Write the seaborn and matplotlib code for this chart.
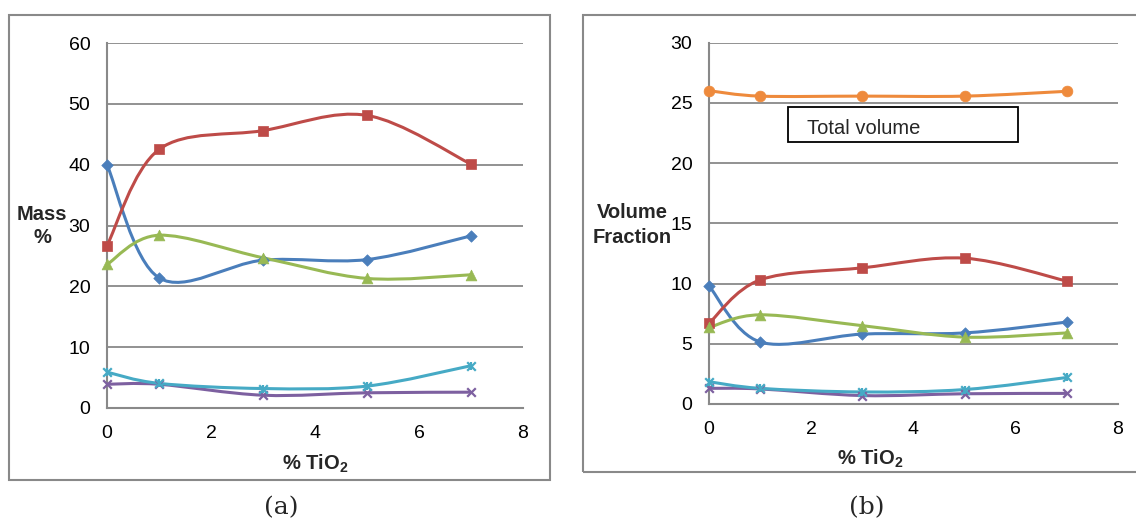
import matplotlib
matplotlib.use("Agg")
import matplotlib.pyplot as plt
import seaborn as sns
from matplotlib.path import Path
from matplotlib.patches import PathPatch, Rectangle

sns.set_style("white")
plt.rcParams['font.family'] = ['Liberation Sans', 'DejaVu Sans']
plt.rcParams['mathtext.fontset'] = 'custom'
plt.rcParams['mathtext.bf'] = 'Liberation Sans:bold'
plt.rcParams['mathtext.rm'] = 'Liberation Sans'

# data
tio2 = [0, 1, 3, 5, 7]

mass_red = [26.7, 42.5, 45.6, 48.1, 40.1]
mass_blue = [40.0, 21.4, 24.3, 24.4, 28.3]
mass_green = [23.6, 28.4, 24.7, 21.3, 21.9]
mass_cyan = [5.9, 4.05, 3.2, 3.6, 6.95]
mass_purple = [3.9, 3.9, 2.1, 2.5, 2.6]

vol_total = [26.0, 25.55, 25.55, 25.55, 25.95]
vol_red = [6.7, 10.3, 11.3, 12.1, 10.2]
vol_blue = [9.8, 5.15, 5.8, 5.9, 6.8]
vol_green = [6.35, 7.4, 6.5, 5.55, 5.9]
vol_cyan = [1.85, 1.3, 1.0, 1.2, 2.2]
vol_purple = [1.3, 1.25, 0.7, 0.85, 0.88]

blue = "#4A7EBB"
red = "#BE4B48"
green = "#98B954"
cyan = "#46AAC5"
purple = "#7D60A0"
orange = "#EE8A3C"
grey = "#898989"


def smooth_line(ax, xs, ys, color):
    # Excel style smoothed line: cubic bezier through the points
    pts = list(zip(xs, ys))
    verts = [pts[0]]
    codes = [Path.MOVETO]
    n = len(pts)
    for i in range(n - 1):
        p0 = pts[i - 1] if i > 0 else pts[i]
        p1 = pts[i]
        p2 = pts[i + 1]
        p3 = pts[i + 2] if i + 2 < n else pts[i + 1]
        c1 = (p1[0] + (p2[0] - p0[0]) / 6, p1[1] + (p2[1] - p0[1]) / 6)
        c2 = (p2[0] - (p3[0] - p1[0]) / 6, p2[1] - (p3[1] - p1[1]) / 6)
        verts += [c1, c2, p2]
        codes += [Path.CURVE4] * 3
    patch = PathPatch(Path(verts, codes), fill=False, edgecolor=color, lw=2.2,
                      transform=ax.transData, clip_on=False, zorder=3)
    ax.add_patch(patch)


def series(ax, ys, color, marker):
    smooth_line(ax, tio2, ys, color)
    if marker == "star":
        sns.scatterplot(x=tio2, y=ys, marker="x", color=color, s=38, linewidth=1.6,
                        ax=ax, clip_on=False, zorder=4)
        sns.scatterplot(x=tio2, y=ys, marker="|", color=color, s=38, linewidth=1.6,
                        ax=ax, clip_on=False, zorder=4)
    elif marker == "x":
        sns.scatterplot(x=tio2, y=ys, marker="x", color=color, s=38, linewidth=1.6,
                        ax=ax, clip_on=False, zorder=4)
    else:
        size = {"D": 34, "s": 60, "^": 60, "o": 60}[marker]
        sns.scatterplot(x=tio2, y=ys, marker=marker, color=color, s=size,
                        edgecolor=color, linewidth=0.5, ax=ax, clip_on=False, zorder=4)


def style_axes(ax, ymax, ystep):
    ax.set_xlim(0, 8)
    ax.set_ylim(0, ymax)
    ax.set_xticks(range(0, 9, 2))
    ax.set_yticks(range(0, ymax + 1, ystep))
    ax.grid(axis="y", color=grey, lw=1.3)
    ax.grid(axis="x", visible=False)
    ax.set_axisbelow(True)
    for s in ["top", "right"]:
        ax.spines[s].set_visible(False)
    for s in ["left", "bottom"]:
        ax.spines[s].set_color(grey)
        ax.spines[s].set_linewidth(1.5)
    ax.tick_params(axis="both", which="major", direction="out", length=5, width=1.5,
                   color=grey, labelsize=14, labelcolor="black")
    ax.tick_params(axis="y", pad=7)
    ax.tick_params(axis="x", pad=7)
    ax.set_xlabel("")
    ax.set_ylabel("")


fig = plt.figure(figsize=(11.36, 5.22), dpi=100)
W, H = 1136, 522

# panel borders
fig.patches.append(Rectangle((9 / W, 1 - 480 / H), 541 / W, 465 / H, transform=fig.transFigure,
                             fill=False, edgecolor=grey, lw=1.5))
fig.patches.append(Rectangle((583 / W, 1 - 472 / H), 560 / W, 457 / H, transform=fig.transFigure,
                             fill=False, edgecolor=grey, lw=1.5))

# (a) mass
ax1 = fig.add_axes([107 / W, 1 - 408 / H, 416 / W, 365 / H])
series(ax1, mass_blue, blue, "D")
series(ax1, mass_red, red, "s")
series(ax1, mass_green, green, "^")
series(ax1, mass_purple, purple, "x")
series(ax1, mass_cyan, cyan, "star")
style_axes(ax1, 60, 10)
fig.text(42 / W, 1 - 214 / H, "Mass", ha="center", va="center", fontsize=14.5, fontweight="bold")
fig.text(42 / W, 1 - 237 / H, "%", ha="center", va="center", fontsize=14.5, fontweight="bold")
fig.text(315 / W, 1 - 464 / H, r"% TiO$_\mathbf{2}$", ha="center", va="center",
         fontsize=14.5, fontweight="bold")

# (b) volume fraction
ax2 = fig.add_axes([709 / W, 1 - 404 / H, 409 / W, 361.5 / H])
series(ax2, vol_total, orange, "o")
series(ax2, vol_blue, blue, "D")
series(ax2, vol_red, red, "s")
series(ax2, vol_green, green, "^")
series(ax2, vol_purple, purple, "x")
series(ax2, vol_cyan, cyan, "star")
style_axes(ax2, 30, 5)
fig.text(632 / W, 1 - 212 / H, "Volume", ha="center", va="center", fontsize=14.5, fontweight="bold")
fig.text(632 / W, 1 - 237 / H, "Fraction", ha="center", va="center", fontsize=14.5, fontweight="bold")
fig.text(870 / W, 1 - 459 / H, r"% TiO$_\mathbf{2}$", ha="center", va="center",
         fontsize=14.5, fontweight="bold")

fig.patches.append(Rectangle((788 / W, 1 - 142 / H), 230 / W, 35 / H, transform=fig.transFigure,
                             fill=True, facecolor="white", edgecolor="black", lw=1.3, zorder=5))
fig.text(807 / W, 1 - 129 / H, "Total volume", ha="left", va="center", fontsize=14.5, zorder=6)

fig.text(281 / W, 1 - 508 / H, "(a)", ha="center", va="center", fontsize=18,
         family=["DejaVu Serif"])
fig.text(867 / W, 1 - 508 / H, "(b)", ha="center", va="center", fontsize=18,
         family=["DejaVu Serif"])

fig.savefig("out.png", dpi=100)
